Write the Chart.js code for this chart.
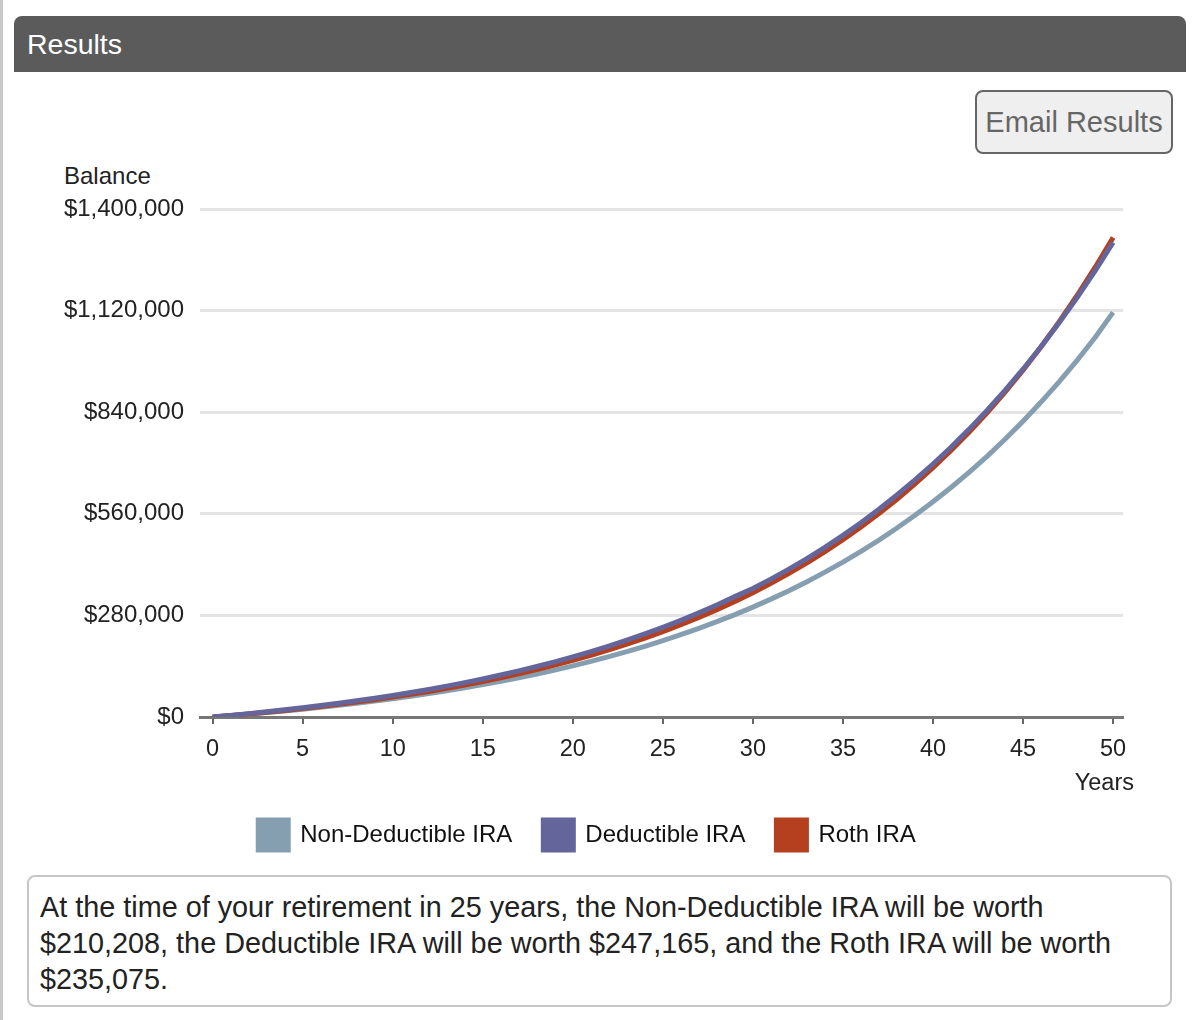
<!DOCTYPE html>
<html>
<head>
<meta charset="utf-8">
<script src="https://cdn.jsdelivr.net/npm/chart.js@4"></script>
<style>
  body { margin: 0; background: #fff; font-family: "Liberation Sans", Arial, Helvetica, sans-serif; }
  #page { position: relative; width: 1196px; height: 1020px; overflow: hidden; }
  #edge { position: absolute; left: 0; top: 0; width: 3px; height: 1020px; background: #c9c9c9; }
  #header { position: absolute; left: 14px; top: 16px; width: 1172px; height: 56px; background: #5b5b5b;
            border-radius: 8px 8px 0 0; color: #fff; font-size: 28.5px; line-height: 56px; box-sizing: border-box; padding-left: 13px; }
  #email { position: absolute; left: 975px; top: 90px; width: 198px; height: 64px; box-sizing: border-box;
           border: 2px solid #666; border-radius: 8px; background: #efefef; color: #666;
           font-size: 29px; line-height: 60px; text-align: center; }
  #balance { position: absolute; left: 64px; top: 162px; font-size: 24px; color: #222; }
  #years { position: absolute; right: 62px; top: 769px; font-size: 23.5px; color: #222; }
  #chartwrap { position: absolute; left: 0; top: 150px; width: 1196px; height: 720px; }
  #summary { position: absolute; left: 27px; top: 875px; width: 1145px; height: 132px; box-sizing: border-box;
             border: 2px solid #c6c6c6; border-radius: 8px; padding: 12px 0 0 11px;
             font-size: 28.8px; line-height: 36px; color: #222; white-space: nowrap; }
</style>
</head>
<body>
<div id="page">
  <div id="edge"></div>
  <div id="header">Results</div>
  <div id="email">Email Results</div>
  <div id="balance">Balance</div>
  <div id="chartwrap"><canvas id="chart" width="1196" height="720"></canvas></div>
  <div id="years">Years</div>
  <div id="summary">At the time of your retirement in 25 years, the Non-Deductible IRA will be worth<br>$210,208, the Deductible IRA will be worth $247,165, and the Roth IRA will be worth<br>$235,075.</div>
</div>
<script>
// series (balance at each year)
var years = [0,1,2,3,4,5,6,7,8,9,10,11,12,13,14,15,16,17,18,19,20,21,22,23,24,25,
             26,27,28,29,30,31,32,33,34,35,36,37,38,39,40,41,42,43,44,45,46,47,48,49,50];

var nonDeductible = [0,3800,7900,12200,16800,21600,26700,32200,37900,44000,50500,
  57400,64600,72300,80500,89200,98400,108100,118400,129300,140900,
  153200,166300,180100,194700,210208,226700,244100,262600,282100,302900,
  324900,348200,373000,399200,427000,456400,487600,520700,555800,593000,
  632400,674100,718400,765400,815100,867900,923800,983000,1045800,1115000];

var deductible = [0,4500,9300,14300,19700,25400,31400,37800,44600,51800,59400,
  67400,76000,85100,94700,104900,115700,127100,139200,152100,165700,
  180200,195500,211700,228900,247165,266500,287000,308700,331700,354000,
  380000,407500,436500,467500,500500,535500,572500,612000,653500,697200,
  743500,792700,844700,899900,958400,1020400,1086200,1155800,1229700,1308000];

var roth = [0,4100,8500,13100,18000,23300,28900,34800,41100,47800,54900,
  62500,70500,79000,88100,97800,108100,119000,130600,143000,156100,
  170000,184900,200600,217400,235075,254200,274300,295700,318500,342700,
  368400,395800,424900,455800,488600,523600,560700,600200,642200,686800,
  734200,784700,838300,895300,955900,1020300,1088800,1161600,1239000,1321300];

var seriesNames = ['Non-Deductible IRA', 'Deductible IRA', 'Roth IRA'];
var seriesColors = ['#869fb0', '#63659b', '#b5401f'];
var yTicks = [0, 280000, 560000, 840000, 1120000, 1400000];
var xTicks = [0, 5, 10, 15, 20, 25, 30, 35, 40, 45, 50];

function points(values) {
  return years.map(function(y, i) { return {x: y, y: values[i]}; });
}

var fontFamily = '"Liberation Sans", Arial, Helvetica, sans-serif';

var datasets = [nonDeductible, deductible, roth].map(function(values, i) {
  return {
    label: seriesNames[i],
    data: points(values),
    borderColor: seriesColors[i],
    backgroundColor: seriesColors[i],
    borderWidth: 5,
    pointRadius: 0,
    tension: 0,
    fill: false,
    // deductible drawn on top, roth under it, non-deductible at the bottom
    order: [2, 0, 1][i]
  };
});

new Chart(document.getElementById('chart'), {
  type: 'line',
  data: { datasets: datasets },
  options: {
    responsive: false,
    animation: false,
    events: [],
    layout: { padding: { top: 59, bottom: 10, left: 0, right: 22 } },
    plugins: {
      tooltip: { enabled: false },
      legend: {
        position: 'bottom',
        labels: {
          boxWidth: 30,
          boxHeight: 30,
          padding: 31,
          color: '#111',
          font: { size: 24, family: fontFamily },
          sort: function(a, b) { return a.datasetIndex - b.datasetIndex; }
        }
      }
    },
    scales: {
      x: {
        type: 'linear',
        min: -0.7,
        max: 50.55,
        afterBuildTicks: function(s) { s.ticks = xTicks.map(function(v) { return {value: v}; }); },
        afterFit: function(s) { s.height = 72; },
        border: { display: true, color: '#777', width: 3 },
        grid: { drawOnChartArea: false, drawTicks: true, tickLength: 7, color: '#666', lineWidth: 2 },
        ticks: { color: '#222', padding: 11, maxRotation: 0, font: { size: 23.5, family: fontFamily } }
      },
      y: {
        min: 0,
        max: 1400000,
        afterBuildTicks: function(s) { s.ticks = yTicks.map(function(v) { return {value: v}; }); },
        afterFit: function(s) { s.width = 200; },
        border: { display: false },
        grid: {
          drawTicks: false,
          lineWidth: 3,
          color: function(ctx) { return ctx.tick && ctx.tick.value === 0 ? 'rgba(0,0,0,0)' : '#e4e4e4'; }
        },
        ticks: {
          color: '#222',
          padding: 16,
          font: { size: 24, family: fontFamily },
          callback: function(v) { return '$' + v.toLocaleString('en-US'); }
        }
      },
      pad: {
        type: 'linear',
        position: 'right',
        display: true,
        afterFit: function(s) { s.width = 51; },
        border: { display: false },
        grid: { display: false },
        ticks: { display: false }
      }
    }
  }
});
</script>
</body>
</html>
